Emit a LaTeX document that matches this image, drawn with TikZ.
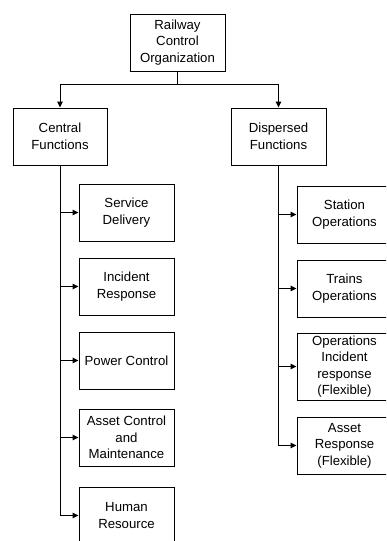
\documentclass[tikz,border=0pt]{standalone}
\usepackage{fontspec}
\setmainfont{Liberation Sans}
\usetikzlibrary{arrows.meta}
\begin{document}
\begin{tikzpicture}[x=1pt,y=-1pt,
  box/.style={draw, line width=0.9pt, minimum width=95pt, minimum height=57pt,
    align=center, inner sep=1pt, font=\fontsize{13.2}{16.5}\selectfont},
  link/.style={line width=1pt, -{Triangle[length=6pt,width=5.5pt]}}]
\clip (0,0) rectangle (386,541);
\fill[white] (0,0) rectangle (386,541);

\node[box] (root) at (177.5,42.5) {Railway\\Control\\Organization};
\node[box, minimum width=94pt] (central) at (60,136.5) {Central\\Functions};
\node[box] (dispersed) at (278.5,136.5) {Dispersed\\Functions};

% central functions
\node[box] (sd) at (126.5,212.5) {Service\\Delivery};
\node[box] (ir) at (126.5,286.5) {Incident\\Response};
\node[box] (pc) at (126.5,360.5) {Power Control};
\node[box] (acm) at (126.5,437.5) {Asset Control\\and\\Maintenance};
\node[box] (hr) at (126.5,515.5) {Human\\Resource};

% dispersed functions
\node[box] (so) at (344.5,214.5) {Station\\Operations};
\node[box] (to) at (344.5,288.5) {Trains\\Operations};
\node[box, minimum height=67pt] (oir) at (344.5,366.5) {Operations\\Incident\\response\\(Flexible)};
\node[box] (ar) at (344.5,445.5) {Asset\\Response\\(Flexible)};

\coordinate (split) at (177.5,84);
\draw[line width=1pt] (root.south) -- (split);
\draw[link] (split) -| (central.north);
\draw[link] (split) -| (dispersed.north);

\foreach \n in {sd,ir,pc,acm,hr}
  \draw[link] (central.south) |- (\n.west);
\foreach \n in {so,to,oir,ar}
  \draw[link] (dispersed.south) |- (\n.west);
\end{tikzpicture}
\end{document}
